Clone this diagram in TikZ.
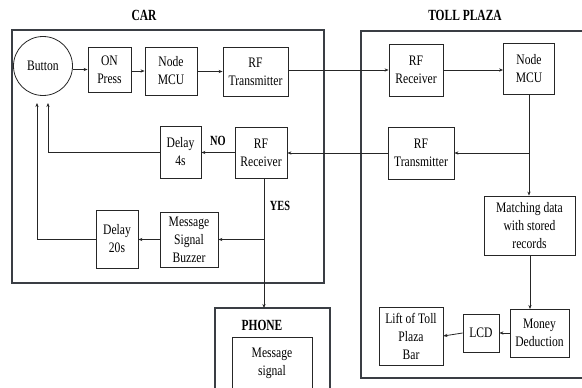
\documentclass[tikz,border=0pt]{standalone}
\usepackage{fontspec}
\setmainfont{Liberation Serif}[FakeStretch=0.8]
\newfontfamily\titlefont{Liberation Serif}[FakeStretch=0.74]
\usetikzlibrary{arrows.meta}
\definecolor{frame}{HTML}{3A3E44}
\tikzset{
  blk/.style={draw=black!85, line width=0.8pt, align=center, inner sep=0pt,
              font=\fontsize{14.5}{18}\selectfont},
  sect/.style={draw=frame, line width=2.4pt},
  ttl/.style={font=\titlefont\fontsize{15.5}{17}\selectfont\bfseries, inner sep=0pt},
  lbl/.style={font=\titlefont\fontsize{14}{16}\selectfont\bfseries, inner sep=0pt},
  arr/.style={draw=black!85, line width=0.8pt, -{Stealth[length=4pt,width=3.2pt]}},
  ln/.style={draw=black!85, line width=0.8pt}
}
\begin{document}
\begin{tikzpicture}[x=1pt,y=-1pt]
\clip (0,0) rectangle (582,388);
\fill[white] (0,0) rectangle (582,388);

% section frames
\draw[sect] (12,30) rectangle (324,283);
\draw[sect] (361,31) rectangle (600,378);
\draw[sect] (215,308) rectangle (330,400);

% section titles
\node[ttl] (tcar) at (144,15) {CAR};
\node[ttl] (ttoll) at (465,15) {TOLL PLAZA};
\node[ttl] (tphone) at (262,325) {PHONE};

% car blocks
\node[blk, circle, minimum size=59pt] (button) at (43,66) {Button};
\node[blk, minimum width=43pt, minimum height=45pt] (onp) at (109.5,69.5) {ON\\Press};
\node[blk, minimum width=52pt, minimum height=48pt] (cmcu) at (171,71) {Node\\MCU};
\node[blk, minimum width=65pt, minimum height=49pt] (ctx) at (255.5,71.5) {RF\\Transmitter};
\node[blk, minimum width=52pt, minimum height=51pt] (crx) at (261,152.5) {RF\\Receiver};
\node[blk, minimum width=41pt, minimum height=52pt] (d4) at (180.5,152) {Delay\\4s};
\node[blk, minimum width=58pt, minimum height=55pt] (msb) at (189,239.5) {Message\\Signal\\Buzzer};
\node[blk, minimum width=42pt, minimum height=58pt] (d20) at (117,239) {Delay\\20s};

% toll plaza blocks
\node[blk, minimum width=54pt, minimum height=52pt] (trx) at (416,70) {RF\\Receiver};
\node[blk, minimum width=51pt, minimum height=51pt] (tmcu) at (529,68.5) {Node\\MCU};
\node[blk, minimum width=66pt, minimum height=52pt] (ttx) at (421,153) {RF\\Transmitter};
\node[blk, minimum width=91pt, minimum height=59pt] (match) at (529.5,225.5) {Matching data\\with stored\\records};
\node[blk, minimum width=59pt, minimum height=48pt] (money) at (539.5,333) {Money\\Deduction};
\node[blk, minimum width=36pt, minimum height=38pt] (lcd) at (481,333) {LCD};
\node[blk, minimum width=64pt, minimum height=58pt] (lift) at (411,336) {Lift of Toll\\Plaza\\Bar};

% phone block
\node[blk, minimum width=80pt, minimum height=56pt, anchor=north] (msg) at (272,337) {};
\node[blk, draw=none] (msgtxt) at (272,363) {Message\\signal};

% branch points and loop ends
\coordinate (b4) at (48,103);
\coordinate (b20) at (37,103);
\coordinate (tsplit) at (529,153);
\coordinate (crxdown) at (264,178);
\coordinate (ysplit) at (264,239.5);
\coordinate (phin) at (264,308);
\coordinate (mdown) at (530,255);
\coordinate (mdin) at (530,309);

% car chain
\draw[arr] (button.east |- onp) -- (onp.west);
\draw[arr] (onp.east |- cmcu) -- (cmcu.west);
\draw[arr] (cmcu.east |- ctx) -- (ctx.west);
\draw[arr] (ctx.east |- trx) -- (trx.west);

% toll chain
\draw[arr] (trx.east) -- (trx.east -| tmcu.west);
\draw[arr] (tmcu.south) -- (match.north -| tmcu.south);
\draw[arr] (tsplit) -- (ttx.east);
\draw[arr] (ttx.west) -- (crx.east |- ttx.west);
\draw[arr] (mdown) -- (mdin);
\draw[arr] (money.west) -- (lcd.east);
\draw[arr] (lcd.west) -- (lift.east);

% reply handling in the car
\draw[arr] (crx.west) -- (d4.east |- crx.west);
\draw[arr] (d4.west) -| (b4);
\draw[ln] (crxdown) -- (ysplit);
\draw[arr] (ysplit) -- (phin);
\draw[arr] (ysplit) -- (msb.east);
\draw[arr] (msb.west) -- (d20.east |- msb.west);
\draw[arr] (d20.west) -| (b20);

% decision labels
\node[lbl] (no) at (218,141) {NO};
\node[lbl] (yes) at (280,206) {YES};
\end{tikzpicture}
\end{document}
